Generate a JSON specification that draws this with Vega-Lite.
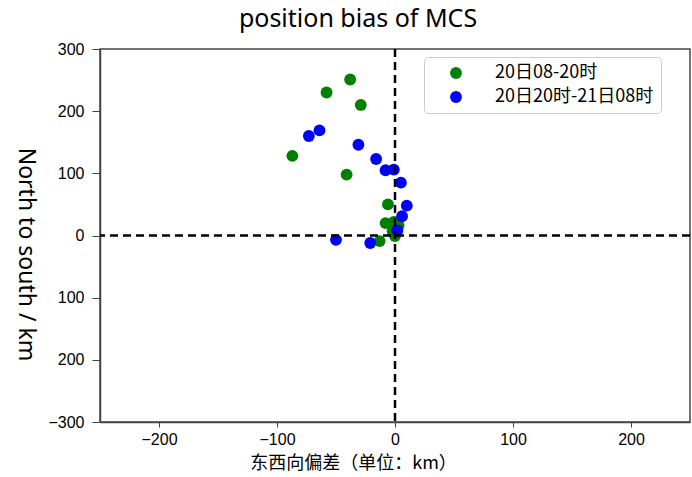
{
  "$schema": "https://vega.github.io/schema/vega-lite/v6.json",
  "autosize": {"type": "none"},
  "width": 590,
  "height": 373,
  "padding": {"left": 100, "top": 49, "right": 2, "bottom": 55},
  "background": "white",
  "title": {"text": "position bias of MCS", "font": "Noto Sans", "fontSize": 25, "fontWeight": "normal", "color": "#000", "anchor": "middle", "dx": -37, "offset": 9},
  "config": {
    "view": {"stroke": "#444", "strokeWidth": 1.5},
    "axis": {"grid": false, "domainColor": "#444", "domainWidth": 1.5, "tickColor": "#444", "tickSize": 5, "labelFont": "Liberation Sans", "labelFontSize": 16, "labelColor": "#000", "labelPadding": 4}
  },
  "data": {"values": [
    {"x": -38, "y": 251, "g": "20日08-20时"},
    {"x": -58, "y": 230, "g": "20日08-20时"},
    {"x": -29, "y": 210, "g": "20日08-20时"},
    {"x": -87, "y": 128, "g": "20日08-20时"},
    {"x": -41, "y": 98, "g": "20日08-20时"},
    {"x": -6, "y": 50, "g": "20日08-20时"},
    {"x": -8, "y": 20, "g": "20日08-20时"},
    {"x": -1, "y": 22, "g": "20日08-20时"},
    {"x": 3, "y": 16, "g": "20日08-20时"},
    {"x": -2, "y": 7, "g": "20日08-20时"},
    {"x": 0, "y": -1, "g": "20日08-20时"},
    {"x": -13, "y": -9, "g": "20日08-20时"},
    {"x": -64, "y": 169, "g": "20日20时-21日08时"},
    {"x": -73, "y": 160, "g": "20日20时-21日08时"},
    {"x": -31, "y": 146, "g": "20日20时-21日08时"},
    {"x": -16, "y": 123, "g": "20日20时-21日08时"},
    {"x": -8, "y": 105, "g": "20日20时-21日08时"},
    {"x": -1, "y": 106, "g": "20日20时-21日08时"},
    {"x": 5, "y": 85, "g": "20日20时-21日08时"},
    {"x": 10, "y": 48, "g": "20日20时-21日08时"},
    {"x": 6, "y": 31, "g": "20日20时-21日08时"},
    {"x": 2, "y": 8, "g": "20日20时-21日08时"},
    {"x": -50, "y": -7, "g": "20日20时-21日08时"},
    {"x": -21, "y": -12, "g": "20日20时-21日08时"}
  ]},
  "layer": [
    {
      "mark": {"type": "point", "filled": true, "opacity": 1, "size": 140},
      "encoding": {
        "x": {"field": "x", "type": "quantitative", "scale": {"domain": [-250, 250], "nice": false},
          "axis": {"values": [-200, -100, 0, 100, 200], "labelExpr": "replace(datum.label, '-', '−')", "title": "东西向偏差（单位：km）", "titleFont": "Noto Sans CJK SC", "titleFontSize": 18, "titleFontWeight": "normal", "titleColor": "#000", "titlePadding": 7, "titleX": 253}},
        "y": {"field": "y", "type": "quantitative", "scale": {"domain": [-300, 300], "nice": false},
          "axis": {"values": [-300, -200, -100, 0, 100, 200, 300], "labelExpr": "datum.value == -300 ? '−300' : format(abs(datum.value), 'd')", "tickSize": 8, "labelPadding": 8, "title": "North to south / km", "titleFont": "Noto Sans", "titleFontSize": 23, "titleFontWeight": "normal", "titleColor": "#000", "titleAngle": 90, "titleX": -75, "titleY": 205, "titleAlign": "center", "titleBaseline": "middle"}},
        "color": {"field": "g", "type": "nominal", "scale": {"domain": ["20日08-20时", "20日20时-21日08时"], "range": ["#008000", "#0000ff"]},
          "legend": {"title": null, "orient": "none", "legendX": 324, "legendY": 8, "symbolType": "circle", "symbolSize": 140, "symbolOffset": 16, "labelFont": "Noto Sans CJK SC", "labelFontSize": 18, "labelLimit": 300, "labelColor": "#000", "labelOffset": 30, "rowPadding": 6, "padding": 7, "strokeColor": "#ccc", "cornerRadius": 4, "fillColor": "white"}}
      }
    },
    {
      "data": {"values": [{"v": 0}]},
      "mark": {"type": "rule", "color": "#000", "strokeWidth": 2.5, "strokeDash": [8, 5]},
      "encoding": {"x": {"field": "v", "type": "quantitative"}}
    },
    {
      "data": {"values": [{"v": 0}]},
      "mark": {"type": "rule", "color": "#000", "strokeWidth": 2.5, "strokeDash": [8, 5]},
      "encoding": {"y": {"field": "v", "type": "quantitative"}}
    }
  ]
}
